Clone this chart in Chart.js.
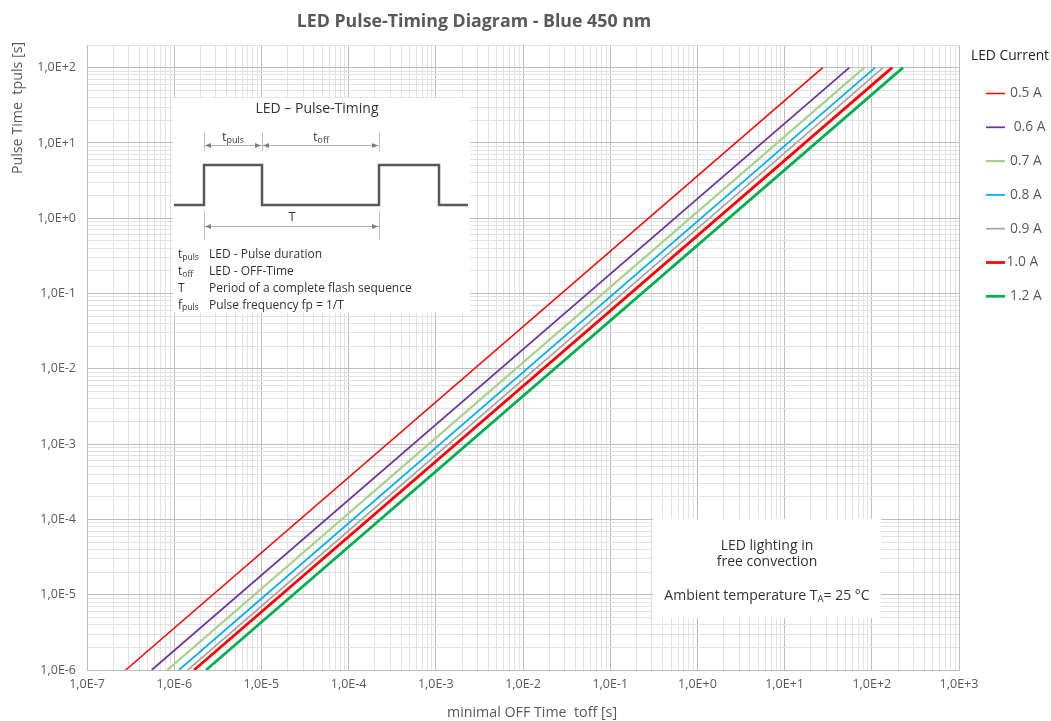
<!DOCTYPE html>
<html><head><meta charset="utf-8">
<script src="https://cdn.jsdelivr.net/npm/chart.js@4.4.1/dist/chart.umd.min.js"></script>
<style>html,body{margin:0;padding:0;background:#fff;} canvas{display:block;}</style>
</head><body>
<canvas id="c" width="1051" height="721"></canvas>
<script>
// ---------------- data ----------------
const seriesNames = ["0.5 A", "0.6 A", "0.7 A", "0.8 A", "0.9 A", "1.0 A", "1.2 A"];
const legendLabels = [" 0.5 A", "  0.6 A", " 0.7 A", " 0.8 A", " 0.9 A", "1.0 A", " 1.2 A"];
// each curve is a straight line in log-log space between these two pulse times
const pulseTimeEnds = [1e-6, 1e2];
// minimal OFF time read at tpuls = 1e-6 s and at tpuls = 1e2 s
const offTimeAtMinPulse = [2.78e-7, 5.52e-7, 8.34e-7, 1.135e-6, 1.43e-6, 1.69e-6, 2.32e-6];
const offTimeAtMaxPulse = [27.4, 55.2, 82.0, 109, 135, 171, 228];
const seriesColors = ["#ff0000", "#7030a0", "#a9d18e", "#00b0f0", "#a6a6a6", "#ff0000", "#00b050"];
const seriesWidths = [1.5, 1.75, 2.25, 1.75, 1.75, 2.75, 2.75];

const xTickLabels = ["1,0E-7","1,0E-6","1,0E-5","1,0E-4","1,0E-3","1,0E-2","1,0E-1","1,0E+0","1,0E+1","1,0E+2","1,0E+3"];
const yTickLabels = ["1,0E-6","1,0E-5","1,0E-4","1,0E-3","1,0E-2","1,0E-1","1,0E+0","1,0E+1","1,0E+2"];
const xMinExp = -7, xMaxExp = 3;
const yMinExp = -6, yMaxExp = 2;
const yAxisMax = 200;

const FONT = "'Open Sans', sans-serif";
const MAJOR = "#bdbdbd", MINOR = "#e2e2e2";

function isPow10(v) { const l = Math.log10(v); return Math.abs(l - Math.round(l)) < 1e-9; }
function logTicks(minE, maxE, maxVal) {
  const t = [];
  for (let e = minE; e < maxE; e++) for (let m = 1; m <= 9; m++) t.push({value: parseFloat((m * Math.pow(10, e)).toPrecision(3))});
  t.push({value: Math.pow(10, maxE)});
  if (maxVal > Math.pow(10, maxE)) t.push({value: maxVal});
  return t;
}

const datasets = seriesNames.map((n, i) => ({
  label: n,
  data: [{x: offTimeAtMinPulse[i], y: pulseTimeEnds[0]}, {x: offTimeAtMaxPulse[i], y: pulseTimeEnds[1]}],
  borderColor: seriesColors[i],
  backgroundColor: seriesColors[i],
  borderWidth: seriesWidths[i],
  pointRadius: 0,
  tension: 0,
  fill: false
}));

// ---------------- helpers for decoration ----------------
function font(size, weight) { return (weight || "normal") + " " + size + "px " + FONT; }
function subWidth(ctx, parts) {
  let w = 0;
  parts.forEach(p => { ctx.font = font(p.size); w += ctx.measureText(p.t).width; });
  return w;
}
function drawParts(ctx, x, y, parts, align, color) {
  const w = subWidth(ctx, parts);
  let cx = align === "center" ? x - w / 2 : x;
  ctx.textAlign = "left"; ctx.textBaseline = "middle"; ctx.fillStyle = color;
  parts.forEach(p => {
    ctx.font = font(p.size);
    ctx.fillText(p.t, cx, y + (p.dy || 0));
    cx += ctx.measureText(p.t).width;
  });
}
function arrowHead(ctx, x, y, dir) {
  ctx.beginPath();
  ctx.moveTo(x, y);
  ctx.lineTo(x - dir * 6, y - 2.5);
  ctx.lineTo(x - dir * 6, y + 2.5);
  ctx.closePath();
  ctx.fill();
}
function dimLine(ctx, x1, x2, y) {
  ctx.strokeStyle = "#b0b0b0"; ctx.lineWidth = 1;
  ctx.beginPath(); ctx.moveTo(x1, y + 0.5); ctx.lineTo(x2, y + 0.5); ctx.stroke();
  ctx.fillStyle = "#808080";
  arrowHead(ctx, x1 + 1, y + 0.5, -1);
  arrowHead(ctx, x2 - 1, y + 0.5, 1);
}
function vLine(ctx, x, y1, y2) {
  ctx.strokeStyle = "#c0c0c0"; ctx.lineWidth = 1;
  ctx.beginPath(); ctx.moveTo(x + 0.5, y1); ctx.lineTo(x + 0.5, y2); ctx.stroke();
}

const decor = {
  id: "decor",
  beforeDatasetsDraw(chart) {
    const ctx = chart.ctx;
    ctx.save();
    // inset 1: pulse timing explanation
    ctx.fillStyle = "#fff";
    ctx.fillRect(173, 98, 297, 215);
    // inset 2: conditions
    ctx.fillRect(653, 519, 228, 99);

    // pulse waveform
    ctx.strokeStyle = "#595959"; ctx.lineWidth = 2.5; ctx.lineJoin = "miter";
    ctx.beginPath();
    ctx.moveTo(174, 205); ctx.lineTo(204, 205); ctx.lineTo(204, 165); ctx.lineTo(262, 165);
    ctx.lineTo(262, 205); ctx.lineTo(379, 205); ctx.lineTo(379, 165); ctx.lineTo(439, 165);
    ctx.lineTo(439, 205); ctx.lineTo(468, 205);
    ctx.stroke();
    // extension lines
    vLine(ctx, 204, 132, 151); vLine(ctx, 262, 132, 151); vLine(ctx, 379, 132, 151);
    vLine(ctx, 204, 211, 239); vLine(ctx, 379, 211, 239);
    dimLine(ctx, 204, 262, 145);
    dimLine(ctx, 262, 379, 145);
    dimLine(ctx, 204, 379, 226);

    const dark = "#333333";
    ctx.font = font(14); ctx.fillStyle = dark; ctx.textAlign = "center"; ctx.textBaseline = "middle";
    ctx.fillText("LED \u2013 Pulse-Timing", 317, 109);
    drawParts(ctx, 233, 137, [{t: "t", size: 13}, {t: "puls", size: 9, dy: 3}], "center", "#404040");
    drawParts(ctx, 321, 137, [{t: "t", size: 13}, {t: "off", size: 9, dy: 3}], "center", "#404040");
    ctx.font = font(13); ctx.fillStyle = "#404040"; ctx.textAlign = "center";
    ctx.fillText("T", 292, 217);

    const rows = [
      [[{t: "t", size: 12}, {t: "puls", size: 8.5, dy: 2.5}], "LED - Pulse duration"],
      [[{t: "t", size: 12}, {t: "off", size: 8.5, dy: 2.5}], "LED - OFF-Time"],
      [[{t: "T", size: 12}], "Period of a complete flash sequence"],
      [[{t: "f", size: 12}, {t: "puls", size: 8.5, dy: 2.5}], "Pulse frequency fp = 1/T"]
    ];
    rows.forEach((r, i) => {
      const y = 255 + i * 16.7;
      drawParts(ctx, 178, y, r[0], "left", dark);
      ctx.font = font(12); ctx.fillStyle = dark; ctx.textAlign = "left"; ctx.textBaseline = "middle";
      ctx.fillText(r[1], 209, y);
    });

    // inset 2 text
    ctx.font = font(14); ctx.fillStyle = dark; ctx.textAlign = "center"; ctx.textBaseline = "middle";
    ctx.fillText("LED lighting in", 767, 546);
    ctx.fillText("free convection", 767, 562);
    drawParts(ctx, 767, 596, [{t: "Ambient temperature T", size: 14}, {t: "A", size: 9.5, dy: 3.5}, {t: "= 25 \u00b0C", size: 14}], "center", dark);
    ctx.restore();
  },
  afterDraw(chart) {
    const ctx = chart.ctx;
    ctx.save();
    // title
    ctx.font = font(17.75, "bold"); ctx.fillStyle = "#595959"; ctx.textAlign = "center"; ctx.textBaseline = "middle";
    ctx.fillText("LED Pulse-Timing Diagram - Blue 450 nm", 474, 22);
    // axis titles
    ctx.font = font(14.25); ctx.fillStyle = "#595959";
    ctx.fillText("minimal OFF Time  toff [s]", 532, 713);
    ctx.save();
    ctx.translate(18, 108); ctx.rotate(-Math.PI / 2);
    ctx.fillText("Pulse Time  tpuls [s]", 0, 0);
    ctx.restore();
    // legend
    ctx.font = font(13.8); ctx.fillStyle = "#262626"; ctx.textAlign = "left";
    ctx.fillText("LED Current", 971, 56);
    chart.data.datasets.forEach((ds, i) => {
      const y = 93.5 + i * 33.8;
      ctx.strokeStyle = ds.borderColor; ctx.lineWidth = ds.borderWidth;
      ctx.beginPath(); ctx.moveTo(986, y); ctx.lineTo(1005, y); ctx.stroke();
      ctx.font = font(13.8); ctx.fillStyle = "#595959"; ctx.textAlign = "left"; ctx.textBaseline = "middle";
      ctx.fillText(legendLabels[i], 1006.5, y);
    });
    ctx.restore();
  }
};

new Chart(document.getElementById("c"), {
  type: "line",
  data: {datasets},
  options: {
    responsive: false,
    devicePixelRatio: 1,
    animation: false,
    layout: {padding: {top: 45, right: 92, bottom: 0, left: 0}},
    plugins: {legend: {display: false}, title: {display: false}, tooltip: {enabled: false}},
    scales: {
      x: {
        type: "logarithmic",
        min: Math.pow(10, xMinExp), max: Math.pow(10, xMaxExp),
        afterBuildTicks(s) { s.ticks = logTicks(xMinExp, xMaxExp, Math.pow(10, xMaxExp)); },
        afterFit(s) { s.height = 51; },
        grid: {
          drawTicks: false,
          color: c => (c.tick && isPow10(c.tick.value)) ? MAJOR : MINOR,
          lineWidth: 1
        },
        border: {color: MAJOR},
        ticks: {
          autoSkip: false, maxRotation: 0, padding: 7,
          color: "#595959", font: {family: FONT, size: 12.5},
          callback: v => isPow10(v) ? xTickLabels[Math.round(Math.log10(v)) - xMinExp] : ""
        }
      },
      y: {
        type: "logarithmic",
        min: Math.pow(10, yMinExp), max: yAxisMax,
        afterBuildTicks(s) { s.ticks = logTicks(yMinExp, yMaxExp, yAxisMax); },
        afterFit(s) { s.width = 87; },
        grid: {
          drawTicks: false,
          color: c => (c.tick && isPow10(c.tick.value)) ? MAJOR : MINOR,
          lineWidth: 1
        },
        border: {color: MAJOR},
        ticks: {
          autoSkip: false, padding: 11,
          color: "#595959", font: {family: FONT, size: 12.5},
          callback: v => isPow10(v) ? yTickLabels[Math.round(Math.log10(v)) - yMinExp] : ""
        }
      }
    }
  },
  plugins: [decor]
});
</script>
</body></html>
